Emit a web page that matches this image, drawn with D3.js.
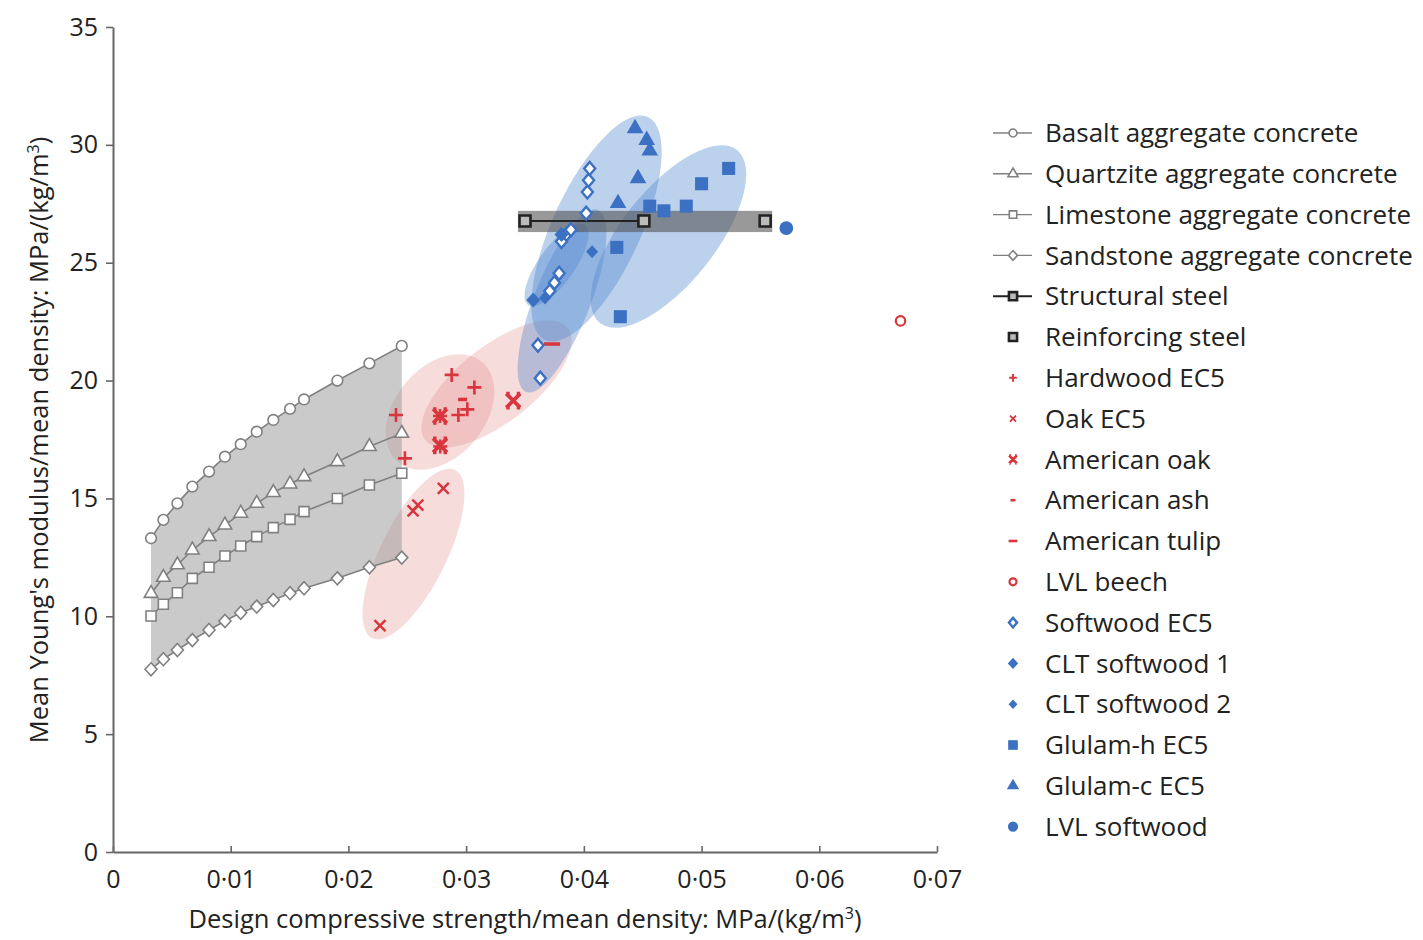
<!DOCTYPE html>
<html><head><meta charset="utf-8">
<script src="https://cdn.jsdelivr.net/npm/d3@7"></script>
<style>
body{margin:0;background:#fff;}
text{font-family:"Open Sans",sans-serif;fill:#222;}
</style></head>
<body><svg id="c" width="1423" height="940"></svg>
<script>
// ---------------- data ----------------
const xTicks = [0, 0.01, 0.02, 0.03, 0.04, 0.05, 0.06, 0.07];
const yTicks = [0, 5, 10, 15, 20, 25, 30, 35];

const concreteX = [0.00323,0.00428,0.00547,0.00674,0.00816,0.00951,0.01085,0.01221,0.01362,0.01504,0.01623,0.01906,0.02178,0.02453];
const basaltY    = [13.31,14.09,14.79,15.50,16.14,16.77,17.30,17.83,18.33,18.80,19.20,20.00,20.73,21.47];
const quartziteY = [10.97,11.65,12.18,12.81,13.38,13.87,14.37,14.79,15.25,15.61,15.92,16.56,17.20,17.76];
const limestoneY = [10.01,10.51,11.00,11.61,12.08,12.56,12.98,13.38,13.76,14.11,14.44,15.00,15.57,16.07];
const sandstoneY = [7.75,8.18,8.57,8.99,9.42,9.80,10.15,10.41,10.69,10.98,11.19,11.61,12.08,12.49];

const structuralSteel = [[0.0350,26.77],[0.0451,26.77]];
const reinforcingSteel = [[0.0554,26.77]];
const steelBandX = [0.0344, 0.0560];
const steelBandY = [26.30, 27.20];

const hardwoodEC5 = [[0.02404,18.54],[0.0248,16.70],[0.0278,17.20],[0.02778,18.50],[0.02934,18.54],[0.0301,18.78],[0.0307,19.71],[0.02877,20.24]];
const oakEC5 = [[0.02806,15.43],[0.0259,14.72],[0.02549,14.47],[0.02268,9.60]];
const americanOak = [[0.02778,18.50],[0.02778,17.25],[0.0340,19.15]];
const americanAsh = [[0.0297,19.20]];
const americanTulip = [[0.0373,21.55]];
const lvlBeech = [[0.0669,22.53]];

const softwoodEC5 = [[0.0363,20.10],[0.0361,21.50],[0.0371,23.80],[0.0375,24.15],[0.0379,24.55],[0.0385,26.20],[0.0381,25.90],[0.0389,26.40],[0.0402,27.10],[0.0403,28.00],[0.0404,28.50],[0.0405,29.00]];
const cltSoftwood1 = [[0.0357,23.42],[0.0381,26.20]];
const cltSoftwood2 = [[0.0367,23.50],[0.0407,25.47]];
const glulamH = [[0.0431,22.71],[0.0428,25.65],[0.0456,27.40],[0.0468,27.20],[0.0487,27.40],[0.0500,28.35],[0.0523,29.00]];
const glulamC = [[0.04435,30.70],[0.04534,30.20],[0.0456,29.75],[0.0446,28.58],[0.0429,27.52]];
const lvlSoftwood = [[0.0572,26.47]];

// group envelopes: axis end points in data units, half-width in px
const redEnvelopes = [
  {ends:[[0.02421,16.55],[0.03135,20.79]], hw:45},
  {ends:[[0.02651,17.48],[0.03865,22.23]], hw:38},
  {ends:[[0.0220,9.08],[0.02905,16.21]], hw:33}
];
const blueEnvelopes = [
  {ends:[[0.04137,22.44],[0.05301,29.78]], hw:47},
  {ends:[[0.0367,21.72],[0.04545,31.18]], hw:44},
  {ends:[[0.03509,19.52],[0.0412,27.24]], hw:28},
  {ends:[[0.03526,23.21],[0.0401,26.6]], hw:18}
];

const legendNames = ["Basalt aggregate concrete","Quartzite aggregate concrete","Limestone aggregate concrete","Sandstone aggregate concrete","Structural steel","Reinforcing steel","Hardwood EC5","Oak EC5","American oak","American ash","American tulip","LVL beech","Softwood EC5","CLT softwood 1","CLT softwood 2","Glulam-h EC5","Glulam-c EC5","LVL softwood"];

// ---------------- styles ----------------
const RED = "#d8353c", BLUE = "#3b70c2", GREY = "#808080";
const svg = d3.select("#c");
const L = 113, R = 937, T = 27, B = 852;
const x = d3.scaleLinear().domain([0, 0.07]).range([L, R]);
const y = d3.scaleLinear().domain([0, 35]).range([B, T]);

const diamondPath = (w, h) => `M0,${-h}L${w},0L0,${h}L${-w},0Z`;

function marker(g, type, cx, cy, s) {
  s = s || 1;
  const p = g.append("path").attr("transform", `translate(${cx},${cy})`);
  const sym = (t, size) => d3.symbol().type(t).size(size)();
  switch (type) {
    case "circleH": p.attr("d", sym(d3.symbolCircle, 90*s)).attr("fill","#fff").attr("stroke",GREY).attr("stroke-width",1.6); break;
    case "triH": p.attr("d", sym(d3.symbolTriangle, 80*s)).attr("fill","#fff").attr("stroke",GREY).attr("stroke-width",1.6); break;
    case "squareH": p.attr("d", sym(d3.symbolSquare, 100*s)).attr("fill","#fff").attr("stroke",GREY).attr("stroke-width",1.6); break;
    case "diamondH": p.attr("d", diamondPath(6*Math.sqrt(s),6.5*Math.sqrt(s))).attr("fill","#fff").attr("stroke",GREY).attr("stroke-width",1.6); break;
    case "steel": p.attr("d", sym(d3.symbolSquare, 120*s)).attr("fill","#bbb").attr("stroke","#222").attr("stroke-width",2.6); break;
    case "plus": { const a=7*s; p.attr("d",`M${-a},0H${a}M0,${-a}V${a}`).attr("stroke",RED).attr("stroke-width",2.6*Math.sqrt(s)).attr("fill","none"); break; }
    case "xs": { const a=5.5*s; p.attr("d",`M${-a},${-a}L${a},${a}M${-a},${a}L${a},${-a}`).attr("stroke",RED).attr("stroke-width",2.4*Math.sqrt(s)).attr("fill","none"); break; }
    case "xb": { const a=7*s; p.attr("d",`M${-a},${-a}L${a},${a}M${-a},${a}L${a},${-a}M${-a},${-a}H${-a/2}M${a/2},${-a}H${a}M${-a},${a}H${-a/2}M${a/2},${a}H${a}`).attr("stroke",RED).attr("stroke-width",3.6*Math.sqrt(s)).attr("fill","none"); break; }
    case "dashS": { const a=4.5*s; p.attr("d",`M${-a},0H${a}`).attr("stroke",RED).attr("stroke-width",3.5*Math.sqrt(s)); break; }
    case "dashL": { const a=8*s; p.attr("d",`M${-a},0H${a}`).attr("stroke",RED).attr("stroke-width",3.5*Math.sqrt(s)); break; }
    case "circleR": p.attr("d", sym(d3.symbolCircle, 70*s)).attr("fill","#fff").attr("stroke",RED).attr("stroke-width",2.2); break;
    case "diamondB": p.attr("d", diamondPath(5.5*Math.sqrt(s),6.5*Math.sqrt(s))).attr("fill","#fff").attr("stroke",BLUE).attr("stroke-width",2.4); break;
    case "diamondF": p.attr("d", diamondPath(7*Math.sqrt(s),7.5*Math.sqrt(s))).attr("fill",BLUE); break;
    case "diamondF2": p.attr("d", diamondPath(6*Math.sqrt(s),6.5*Math.sqrt(s))).attr("fill",BLUE); break;
    case "squareF": p.attr("d", sym(d3.symbolSquare, 170*s)).attr("fill",BLUE); break;
    case "triF": p.attr("d", sym(d3.symbolTriangle, 120*s)).attr("fill",BLUE); break;
    case "circleF": p.attr("d", sym(d3.symbolCircle, 150*s)).attr("fill",BLUE); break;
  }
  return p;
}

// ---------------- envelopes ----------------
function envelope(e, fill) {
  const [a, b] = e.ends;
  const x1 = x(a[0]), y1 = y(a[1]), x2 = x(b[0]), y2 = y(b[1]);
  const cx = (x1+x2)/2, cy = (y1+y2)/2;
  const rx = Math.hypot(x2-x1, y2-y1)/2;
  const ang = Math.atan2(y2-y1, x2-x1)*180/Math.PI;
  svg.append("ellipse").attr("cx",0).attr("cy",0).attr("rx",rx).attr("ry",e.hw)
    .attr("transform",`translate(${cx},${cy}) rotate(${ang})`).attr("fill",fill);
}
redEnvelopes.forEach(e => envelope(e, "rgba(226,130,130,0.28)"));
blueEnvelopes.forEach(e => envelope(e, "rgba(80,135,205,0.38)"));

const concArea = d3.area().x((d,i)=>x(concreteX[i])).y0((d,i)=>y(sandstoneY[i])).y1((d,i)=>y(basaltY[i]));
svg.append("path").attr("d", concArea(concreteX)).attr("fill","rgba(150,150,150,0.5)");

svg.append("rect").attr("x",x(steelBandX[0])).attr("y",y(steelBandY[1]))
  .attr("width",x(steelBandX[1])-x(steelBandX[0])).attr("height",y(steelBandY[0])-y(steelBandY[1]))
  .attr("fill","rgba(85,85,85,0.6)");

// ---------------- axes ----------------
const fmtX = v => v === 0 ? "0" : d3.format(".2f")(v).replace(".", "·");
const gx = svg.append("g").attr("transform",`translate(0,${B})`)
  .call(d3.axisBottom(x).tickValues(xTicks).tickFormat(fmtX).tickSizeInner(-6).tickSizeOuter(0).tickPadding(18));
const gy = svg.append("g").attr("transform",`translate(${L},0)`)
  .call(d3.axisLeft(y).tickValues(yTicks).tickSizeInner(7).tickSizeOuter(0).tickPadding(8));
[gx, gy].forEach(g => {
  g.select(".domain").attr("stroke","#666").attr("stroke-width",2);
  g.selectAll(".tick line").attr("stroke","#666").attr("stroke-width",1.6);
  g.selectAll(".tick text").style("font-family","'Open Sans',sans-serif").style("font-size","25px").attr("fill","#222");
});
gx.selectAll(".tick text").attr("dy","0.71em");

svg.append("text").attr("x",525).attr("y",928).attr("text-anchor","middle").style("font-size","25.5px")
  .html("Design compressive strength/mean density: MPa/(kg/m<tspan dy='-9' font-size='16px'>3</tspan><tspan dy='9'>)</tspan>");
svg.append("text").attr("transform",`translate(48,440) rotate(-90)`).attr("text-anchor","middle").style("font-size","25.5px")
  .html("Mean Young's modulus/mean density: MPa/(kg/m<tspan dy='-9' font-size='16px'>3</tspan><tspan dy='9'>)</tspan>");

// ---------------- concrete series ----------------
const lineGen = d3.line().x(d=>x(d[0])).y(d=>y(d[1]));
const concSeries = [[basaltY,"circleH"],[quartziteY,"triH"],[limestoneY,"squareH"],[sandstoneY,"diamondH"]];
concSeries.forEach(([ys, m]) => {
  const pts = concreteX.map((v,i)=>[v, ys[i]]);
  svg.append("path").attr("d", lineGen(pts)).attr("fill","none").attr("stroke",GREY).attr("stroke-width",1.6);
  const g = svg.append("g");
  pts.forEach(p => marker(g, m, x(p[0]), y(p[1])));
});

svg.append("path").attr("d", lineGen(structuralSteel)).attr("stroke","#222").attr("stroke-width",2).attr("fill","none");
const gs = svg.append("g");
structuralSteel.concat(reinforcingSteel).forEach(p => marker(gs, "steel", x(p[0]), y(p[1])));

const pointSeries = [
  [oakEC5,"xs"],[americanOak,"xb"],[hardwoodEC5,"plus"],[americanAsh,"dashS"],[americanTulip,"dashL"],[lvlBeech,"circleR"],
  [softwoodEC5,"diamondB"],[cltSoftwood1,"diamondF"],[cltSoftwood2,"diamondF2"],[glulamH,"squareF"],[glulamC,"triF"],[lvlSoftwood,"circleF"]
];
pointSeries.forEach(([pts, m]) => {
  const g = svg.append("g");
  pts.forEach(p => marker(g, m, x(p[0]), y(p[1])));
});

// ---------------- legend ----------------
const legMarkers = ["circleH","triH","squareH","diamondH","steel","steel","plus","xs","xb","dashS","dashL","circleR","diamondB","diamondF","diamondF2","squareF","triF","circleF"];
const lg = svg.append("g");
legendNames.forEach((name, i) => {
  const yy = 133 + i*40.8;
  const mx = 1013;
  if (i < 5) {
    lg.append("line").attr("x1",993).attr("x2",1032).attr("y1",yy).attr("y2",yy)
      .attr("stroke", i===4 ? "#222" : GREY).attr("stroke-width", i===4 ? 2 : 1.4);
  }
  marker(lg, legMarkers[i], mx, yy, 0.55);
  lg.append("text").attr("x",1045).attr("y",yy).attr("dy","0.35em").style("font-size","26px").text(name);
});
</script></body></html>
